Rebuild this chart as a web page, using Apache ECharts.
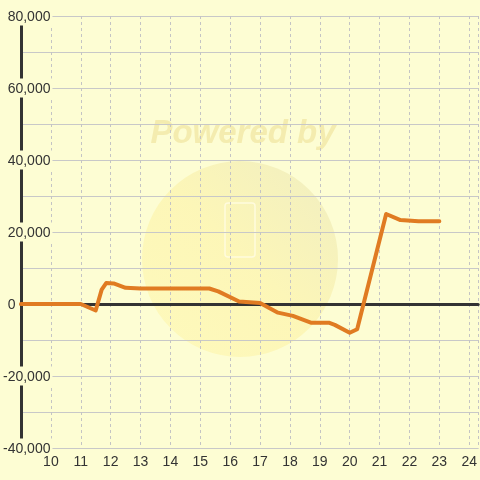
<!DOCTYPE html>
<html>
<head>
<meta charset="utf-8">
<script src="https://cdn.jsdelivr.net/npm/echarts@6/dist/echarts.min.js"></script>
<style>
html,body{margin:0;padding:0;background:#fdfdd3;}
#c{width:480px;height:480px;}
</style>
</head>
<body>
<div id="c"></div>
<script>
// Data
var xValues = [9, 11, 11.5, 11.7, 11.85, 12.1, 12.5, 13, 15.3, 15.6, 16.3, 17, 17.6, 18.1, 18.7, 19.3, 19.5, 20, 20.25, 21.22, 21.7, 22.3, 23];
var yValues = [0, 0, -1800, 4000, 5800, 5700, 4500, 4300, 4300, 3500, 700, 300, -2400, -3300, -5200, -5200, -5800, -8000, -7000, 25000, 23300, 23000, 23000];
var xTicks = [10, 11, 12, 13, 14, 15, 16, 17, 18, 19, 20, 21, 22, 23, 24];
var yTicks = [-40000, -20000, 0, 20000, 40000, 60000, 80000];

var BG = '#fdfdd3';
var data = xValues.map(function (x, i) { return [x, yValues[i]]; });

function fmt(n) {
  return String(Math.abs(n)).replace(/\B(?=(\d{3})+(?!\d))/g, ',');
}

var chart = echarts.init(document.getElementById('c'), null, {renderer: 'canvas'});
chart.setOption({
  backgroundColor: BG,
  animation: false,
  grid: {left: 21, right: 0, top: 16, bottom: 32, containLabel: false},
  graphic: [
    {
      type: 'circle', z: -10, silent: true,
      shape: {cx: 240, cy: 259, r: 98},
      style: {
        fill: new echarts.graphic.LinearGradient(0, 1, 1, 0, [
          {offset: 0, color: 'rgba(255,245,160,0.45)'},
          {offset: 0.5, color: 'rgba(252,238,150,0.45)'},
          {offset: 1, color: 'rgba(225,220,170,0.45)'}
        ])
      }
    },
    {
      type: 'rect', z: -9, silent: true,
      shape: {x: 225, y: 203, width: 30, height: 54, r: 3},
      style: {fill: 'none', stroke: 'rgba(255,252,225,0.9)', lineWidth: 1.5}
    },
    {
      type: 'text', z: -9, silent: true,
      x: 243, y: 134,
      style: {
        text: 'Powered by', fill: '#f4ecaf',
        font: 'italic bold 33px "Liberation Sans", Arial, sans-serif',
        align: 'center', verticalAlign: 'middle'
      }
    }
  ],
  xAxis: [
    {
      type: 'value', min: 9, max: 24.3, interval: 1,
      axisLine: {show: true, onZero: false, lineStyle: {color: '#c8c8c8', width: 1}},
      axisTick: {show: false},
      axisLabel: {
        color: '#333', fontSize: 14, margin: 7,
        fontFamily: '"Liberation Sans", Arial, sans-serif',
        showMinLabel: false, showMaxLabel: false,
        formatter: function (v) { return xTicks.indexOf(v) >= 0 ? String(v) : ''; }
      },
      splitLine: {show: true, lineStyle: {color: '#c4c4c4', width: 1, type: [3, 3]}}
    },
    {
      type: 'value', min: 9, max: 24.3, position: 'bottom',
      axisLine: {show: true, onZero: true, lineStyle: {color: '#333', width: 3}},
      axisTick: {show: false},
      axisLabel: {show: false},
      splitLine: {show: false}
    }
  ],
  yAxis: {
    type: 'value', min: yTicks[0], max: yTicks[yTicks.length - 1], interval: 20000,
    axisLine: {show: true, onZero: false, lineStyle: {color: '#333', width: 3}},
    axisTick: {show: false},
    minorTick: {show: false, splitNumber: 2},
    minorSplitLine: {show: true, lineStyle: {color: '#c8c8c8', width: 1}},
    splitLine: {show: true, lineStyle: {color: '#c8c8c8', width: 1}},
    axisLabel: {
      align: 'left', margin: 18, color: '#333', fontSize: 14,
      fontFamily: '"Liberation Sans", Arial, sans-serif',
      backgroundColor: BG, padding: [4, 2, 1, 0], lineHeight: 14,
      formatter: function (v) {
        return v < 0 ? '-' + fmt(v) : '{h|-}' + fmt(v);
      },
      rich: {
        h: {color: 'transparent', fontSize: 14, fontFamily: '"Liberation Sans", Arial, sans-serif'}
      }
    }
  },
  series: [{
    type: 'line', xAxisIndex: 0, data: data,
    symbol: 'none', smooth: false,
    lineStyle: {color: '#e07b22', width: 4, join: 'round', cap: 'round'}
  }]
});
</script>
</body>
</html>
